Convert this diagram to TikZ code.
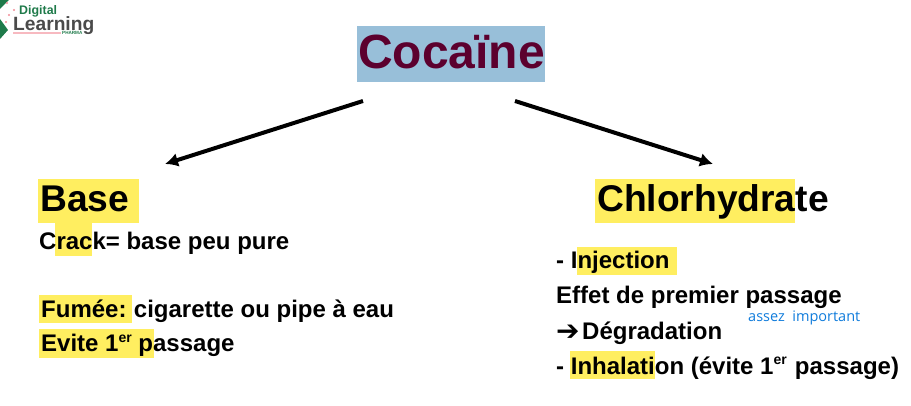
\documentclass[tikz,border=0pt]{standalone}
\usepackage{fontspec}
\setmainfont{Liberation Sans}
\newfontfamily\blueface{Open Sans}
\newfontfamily\arrowface{DejaVu Sans Bold}
\usetikzlibrary{arrows.meta}
\definecolor{hl}{HTML}{FFEE60}
\definecolor{hlblue}{HTML}{98BFD9}
\definecolor{wine}{HTML}{5C002E}
\definecolor{noteblue}{HTML}{0F7BDB}
\definecolor{logogreen}{HTML}{1F7A4A}
\definecolor{logogray}{HTML}{4A4A4A}
\definecolor{logopink}{HTML}{F28B96}
\tikzset{
  x=1pt,y=-1pt,
  mark box/.style={fill=hl,draw=none},
  big/.style={anchor=base west,inner sep=0pt,font=\fontsize{37.2}{37.2}\selectfont\bfseries},
  body/.style={anchor=base west,inner sep=0pt,font=\fontsize{24}{24}\selectfont\bfseries},
  arrowline/.style={line width=4pt,-{Latex[length=13pt,width=14pt]}},
}
\newcommand{\supr}[1]{\raisebox{0.38em}{\fontsize{14}{14}\selectfont #1}}
\begin{document}
\begin{tikzpicture}
\useasboundingbox (0,0) rectangle (911,406);
% highlights
\fill[hlblue] (357,26) rectangle (545,82);
\fill[mark box] (38,179) rectangle (139,223);
\fill[mark box] (55,223) rectangle (92,256);
\fill[mark box] (39,295) rectangle (132,323);
\fill[mark box] (39,329) rectangle (154,358);
\fill[mark box] (595,179) rectangle (795,223);
\fill[mark box] (577,247) rectangle (677,275);
\fill[mark box] (570,351) rectangle (655,379);
% title
\node[anchor=base west,inner sep=0pt,text=wine,font=\fontsize{48}{48}\selectfont\bfseries] (title) at (358,69) {Cocaïne};
\coordinate (la) at (363,101);
\coordinate (lb) at (165,164);
\coordinate (ra) at (515,101);
\coordinate (rb) at (713,164);
\draw[arrowline] (la) -- (lb);
\draw[arrowline] (ra) -- (rb);
% left
\node[big] (base) at (40,212) {Base};
\node[body] (crack) at (39,250) {Crack= base peu pure};
\node[body] (fumee) at (41,317) {Fumée:\hspace{-1.5pt} cigarette ou pipe à eau};
\node[body] (evite) at (41,352) {Evite 1\supr{er} passage};
% right
\node[big] (chlor) at (597,212) {Chlorhydrate};
\node[body] (inj) at (556,269) {- Injection};
\node[body] (effet) at (556,304) {Effet de premier passage};
\node[body] (deg) at (556,339) {\makebox[26pt][l]{\raisebox{-1.5pt}{\arrowface\fontsize{28}{28}\selectfont ➔}}Dégradation};
\node[body] (inh) at (556,374) {- Inhalation (évite 1\supr{er}\hspace{1.5pt} passage)};
\node[anchor=base west,inner sep=0pt,text=noteblue,font=\blueface\fontsize{14.5}{14.5}\selectfont] (note) at (748,321) {assez\ \ important};
% logo
\fill[logogreen] (0,0) -- (9,0) -- (0,9) -- cycle;
\fill[logogreen] (0,19) -- (8,30) -- (0,39) -- cycle;
\foreach \p/\q in {7/3,14/10,6/22,9/15}{\fill[logopink] (\p,\q) circle (1.1);}
\node[anchor=base west,inner sep=0pt,text=logogreen,font=\fontsize{12.4}{12.4}\selectfont\bfseries] (dig) at (19,15) {Digital};
\node[anchor=base west,inner sep=0pt,text=logogray,font=\fontsize{19.2}{19.2}\selectfont\bfseries] (learn) at (13,31) {Learning};
\fill[logopink!60] (13,32.5) rectangle (61,33.7);
\node[anchor=base west,inner sep=0pt,text=logogreen,font=\fontsize{4.6}{4.6}\selectfont\bfseries] (ph) at (62,35) {PHARMA};
\end{tikzpicture}
\end{document}
